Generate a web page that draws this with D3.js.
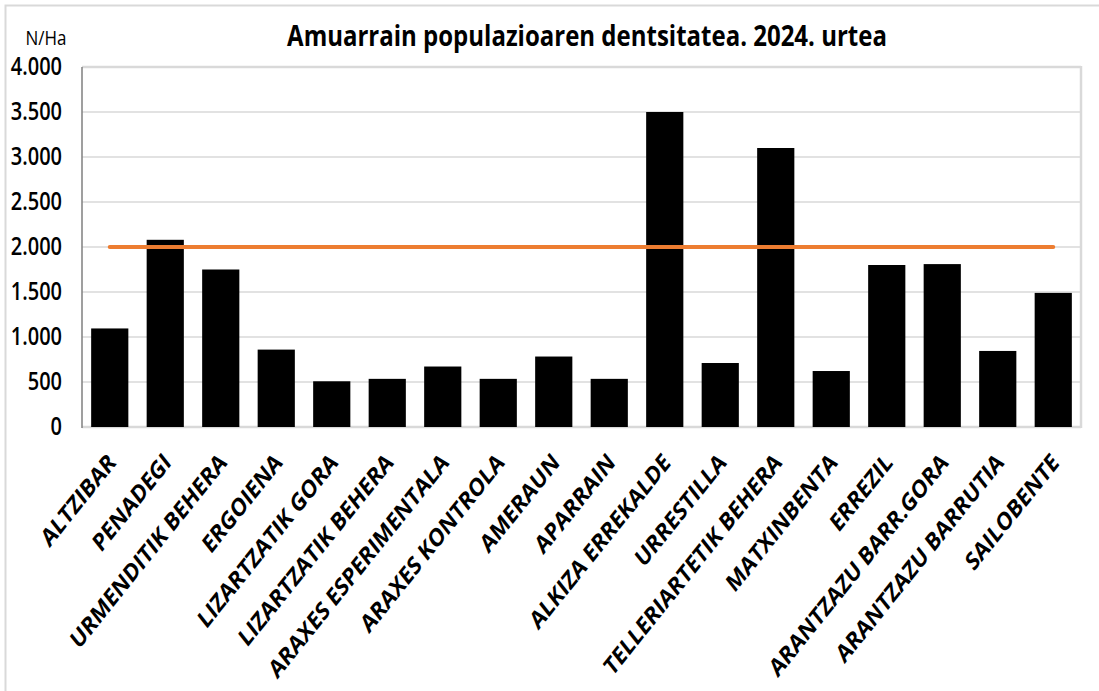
<!DOCTYPE html>
<html lang="eu">
<head>
<meta charset="UTF-8">
<title>Amuarrain populazioaren dentsitatea</title>
<script src="https://d3js.org/d3.v7.min.js"></script>
<style>
  body { margin: 0; background: #fff; }
  svg text { font-family: "Open Sans", sans-serif; fill: #000; }
</style>
</head>
<body>
<svg width="1099" height="691"></svg>
<script>
  // data
  const sites = ["ALTZIBAR", "PENADEGI", "URMENDITIK BEHERA", "ERGOIENA", "LIZARTZATIK GORA",
    "LIZARTZATIK BEHERA", "ARAXES ESPERIMENTALA", "ARAXES KONTROLA", "AMERAUN", "APARRAIN",
    "ALKIZA ERREKALDE", "URRESTILLA", "TELLERIARTETIK BEHERA", "MATXINBENTA", "ERREZIL",
    "ARANTZAZU BARR.GORA", "ARANTZAZU BARRUTIA", "SAILOBENTE"];
  const density = [1095, 2080, 1750, 860, 508, 535, 672, 535, 783, 535,
    3500, 711, 3100, 622, 1800, 1810, 845, 1490];
  const threshold = 2000;
  const yTicks = [0, 500, 1000, 1500, 2000, 2500, 3000, 3500, 4000];

  const svg = d3.select("svg");
  const margin = { left: 82, right: 18, top: 67, bottom: 264 };
  const W = 1099, H = 691;
  const stretch = 1.22; // the source picture is a bit taller than wide

  const x = d3.scaleBand().domain(sites)
    .range([margin.left, W - margin.right]).paddingInner(0.33).paddingOuter(0.165);
  const y = d3.scaleLinear().domain([0, 4000]).range([H - margin.bottom, margin.top]);

  const fmt = v => d3.format(",")(v).replace(/,/g, ".");

  // outer frame (top + left only visible)
  svg.append("path").attr("d", `M5.5,${H} V5.5 H${W}`)
    .attr("fill", "none").attr("stroke", "#d9d9d9").attr("stroke-width", 2);

  // gridlines
  svg.append("g").selectAll("line").data(yTicks).join("line")
    .attr("x1", margin.left).attr("x2", W - margin.right)
    .attr("y1", d => y(d)).attr("y2", d => y(d))
    .attr("stroke", "#d9d9d9").attr("stroke-width", d => d === 0 || d === 4000 ? 2.5 : 1.5);

  // right border of plot
  svg.append("line").attr("x1", W - margin.right).attr("x2", W - margin.right)
    .attr("y1", y(4000) - 1).attr("y2", y(0) + 1)
    .attr("stroke", "#d9d9d9").attr("stroke-width", 2.5);

  // bars
  svg.append("g").selectAll("rect").data(density).join("rect")
    .attr("x", (d, i) => x(sites[i]))
    .attr("width", x.bandwidth())
    .attr("y", d => y(d))
    .attr("height", d => y(0) - y(d))
    .attr("fill", "#000");

  // left axis line
  svg.append("line").attr("x1", margin.left).attr("x2", margin.left)
    .attr("y1", y(4000)).attr("y2", y(0) + 1)
    .attr("stroke", "#7f7f7f").attr("stroke-width", 1.5);

  // y labels
  const yAxis = d3.axisLeft(y).tickValues(yTicks).tickFormat(fmt).tickSize(0).tickPadding(0);
  const ya = svg.append("g").attr("transform", `translate(62,0)`).call(yAxis);
  ya.select(".domain").remove();
  ya.selectAll("text").style("font-size", "20px").style("font-weight", 600)
    .attr("dy", "0.32em").attr("transform", `scale(1,${stretch})`);

  // threshold line
  const line = d3.line().x(d => x(d) + x.bandwidth() / 2).y(() => y(threshold));
  svg.append("path").datum([sites[0], sites[sites.length - 1]])
    .attr("d", line).attr("fill", "none")
    .attr("stroke", "#ed7d31").attr("stroke-width", 4).attr("stroke-linecap", "round");

  // x labels
  svg.append("g").selectAll("text").data(sites).join("text")
    .attr("transform", d => `translate(${x(d) + x.bandwidth() / 2 + 7},${y(0) + 37}) scale(1,1.25) rotate(-45)`)
    .attr("text-anchor", "end")
    .style("font-size", "20px").style("font-weight", 700)
    .text(d => d);

  // title & unit
  svg.append("text").attr("transform", `translate(587,46) scale(1,${stretch})`)
    .attr("text-anchor", "middle")
    .style("font-size", "24px").style("font-weight", 700)
    .text("Amuarrain populazioaren dentsitatea. 2024. urtea");
  svg.append("text").attr("transform", `translate(46,45) scale(1,${stretch})`)
    .attr("text-anchor", "middle")
    .style("font-size", "17px")
    .text("N/Ha");
</script>
</body>
</html>
